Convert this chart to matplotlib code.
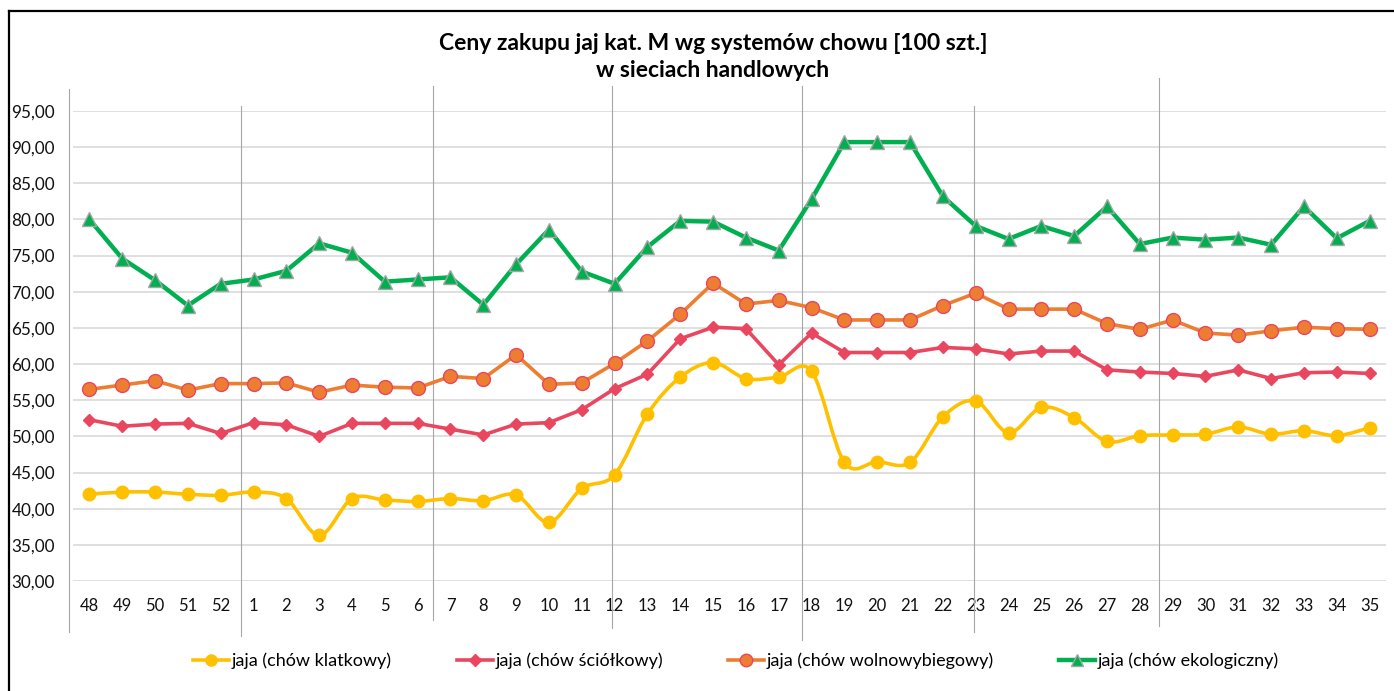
import matplotlib
matplotlib.use("Agg")
import matplotlib.pyplot as plt
import numpy as np
from matplotlib.path import Path
from matplotlib.patches import PathPatch
from matplotlib.lines import Line2D
from matplotlib.transforms import blended_transform_factory

plt.rcParams['font.family'] = ['Lato', 'DejaVu Sans']

# tygodnie
weeks = ["48", "49", "50", "51", "52"] + [str(i) for i in range(1, 36)]

klatkowy = [42.0, 42.3, 42.3, 42.0, 41.85, 42.3, 41.4, 36.3, 41.4, 41.2,
            41.0, 41.4, 41.1, 41.9, 38.1, 42.8, 44.7, 53.1, 58.2, 60.2,
            58.0, 58.2, 59.0, 46.4, 46.5, 46.4, 52.7, 54.9, 50.5, 54.0,
            52.6, 49.3, 50.1, 50.2, 50.3, 51.3, 50.3, 50.8, 50.1, 51.2]
sciolkowy = [52.3, 51.4, 51.7, 51.8, 50.4, 51.9, 51.6, 50.0, 51.8, 51.8,
             51.8, 51.0, 50.2, 51.7, 51.9, 53.7, 56.6, 58.6, 63.5, 65.1,
             64.9, 59.9, 64.3, 61.6, 61.6, 61.6, 62.3, 62.1, 61.4, 61.8,
             61.8, 59.2, 58.9, 58.7, 58.3, 59.2, 58.0, 58.8, 58.9, 58.7]
wolnowybiegowy = [56.5, 57.1, 57.7, 56.4, 57.3, 57.3, 57.4, 56.1, 57.1, 56.8,
                  56.7, 58.3, 58.0, 61.3, 57.2, 57.4, 60.1, 63.2, 66.9, 71.2,
                  68.3, 68.8, 67.8, 66.1, 66.1, 66.1, 68.1, 69.8, 67.6, 67.6,
                  67.6, 65.6, 64.8, 66.1, 64.3, 64.0, 64.6, 65.1, 64.9, 64.8]
ekologiczny = [80.0, 74.6, 71.6, 68.1, 71.1, 71.7, 72.9, 76.7, 75.4, 71.4,
               71.7, 72.0, 68.2, 73.8, 78.6, 72.8, 71.1, 76.2, 79.8, 79.7,
               77.5, 75.7, 82.8, 90.7, 90.7, 90.7, 83.2, 79.1, 77.3, 79.1,
               77.7, 81.8, 76.6, 77.5, 77.2, 77.5, 76.5, 81.8, 77.4, 79.8]

yticks = [30, 35, 40, 45, 50, 55, 60, 65, 70, 75, 80, 85, 90, 95]

YELLOW = "#FFC000"
RED = "#E8475F"
ORANGE = "#ED7D31"
GREEN = "#00B050"


def smooth_path(x, y):
    # wygladzona linia jak w Excelu (krzywe Beziera)
    pts = np.column_stack([x, y])
    verts = [pts[0]]
    codes = [Path.MOVETO]
    n = len(pts)
    for i in range(n - 1):
        p0 = pts[i - 1] if i > 0 else pts[i]
        p1 = pts[i]
        p2 = pts[i + 1]
        p3 = pts[i + 2] if i + 2 < n else pts[i + 1]
        c1 = p1 + (p2 - p0) / 6
        c2 = p2 - (p3 - p1) / 6
        verts += [c1, c2, p2]
        codes += [Path.CURVE4] * 3
    return Path(verts, codes)


fig = plt.figure(figsize=(13.94, 6.91), dpi=100)
ax = fig.add_axes([73 / 1394, 1 - 581 / 691, (1386 - 73) / 1394, 470 / 691])

x = np.arange(len(weeks))

ax.add_patch(PathPatch(smooth_path(x, klatkowy), facecolor="none",
                       edgecolor=YELLOW, lw=2.6, zorder=3))
ax.plot(x, klatkowy, ls="none", marker="o", ms=9, color=YELLOW, zorder=3)
ax.plot(x, sciolkowy, color=RED, lw=2.6, marker="D", ms=6.5, zorder=4)
ax.plot(x, wolnowybiegowy, color=ORANGE, lw=2.6, marker="o", ms=10,
        mfc=ORANGE, mec=RED, mew=1, zorder=5)
ax.plot(x, ekologiczny, color=GREEN, lw=3.2, marker="^", ms=10,
        mfc=GREEN, mec="#A5A5A5", mew=1, zorder=6)

ax.set_xlim(-0.5, len(weeks) - 0.5)
ax.set_ylim(30, 95)
ax.set_yticks(yticks)
ax.set_yticklabels(["{:.2f}".format(v).replace(".", ",") for v in yticks])
ax.set_xticks(x)
ax.set_xticklabels(weeks)
ax.tick_params(axis="y", length=0, pad=13, labelsize=12.3, labelcolor="#111111")
ax.tick_params(axis="x", length=0, pad=12, labelsize=12, labelcolor="#111111")
ax.grid(axis="y", color="#D9D9D9", lw=1.2)
ax.set_axisbelow(True)
for s in ax.spines.values():
    s.set_visible(False)

# pionowe linie oddzielajace miesiace
trans = blended_transform_factory(ax.transData, fig.transFigure)
seps = [(-0.61, 89, 632), (4.62, 106, 636), (10.47, 86, 620), (15.91, 86, 628),
        (21.72, 86, 640), (26.95, 106, 632), (32.58, 78, 626)]
for sx, top, bot in seps:
    ax.add_line(Line2D([sx, sx], [1 - top / 691, 1 - bot / 691], transform=trans,
                       color="#A6A6A6", lw=0.8, clip_on=False, zorder=1))

# ramka
fig.add_artist(Line2D([9 / 1394, 1], [1 - 11 / 691, 1 - 11 / 691], color="black", lw=1.6))
fig.add_artist(Line2D([9 / 1394, 9 / 1394], [0, 1 - 11 / 691], color="black", lw=1.6))

fig.text(713 / 1394, 1 - 57 / 691,
         "Ceny zakupu jaj kat. M wg systemów chowu [100 szt.]\nw sieciach handlowych",
         ha="center", va="center", fontsize=16.5, fontweight="bold", linespacing=1.32)

handles = [
    Line2D([], [], color=YELLOW, lw=2.6, marker="o", ms=8),
    Line2D([], [], color=RED, lw=2.6, marker="D", ms=6),
    Line2D([], [], color=ORANGE, lw=2.6, marker="o", ms=9, mec=RED),
    Line2D([], [], color=GREEN, lw=3.2, marker="^", ms=9, mec="#A5A5A5"),
]
labels = ["jaja (chów klatkowy)", "jaja (chów ściółkowy)",
          "jaja (chów wolnowybiegowy)", "jaja (chów ekologiczny)"]
fig.legend(handles, labels, loc="center", bbox_to_anchor=(736 / 1394, 1 - 661 / 691),
           ncol=4, frameon=False, fontsize=13, handlelength=2.0,
           handletextpad=0.15, columnspacing=3.6)

fig.savefig("out.png", dpi=100)
